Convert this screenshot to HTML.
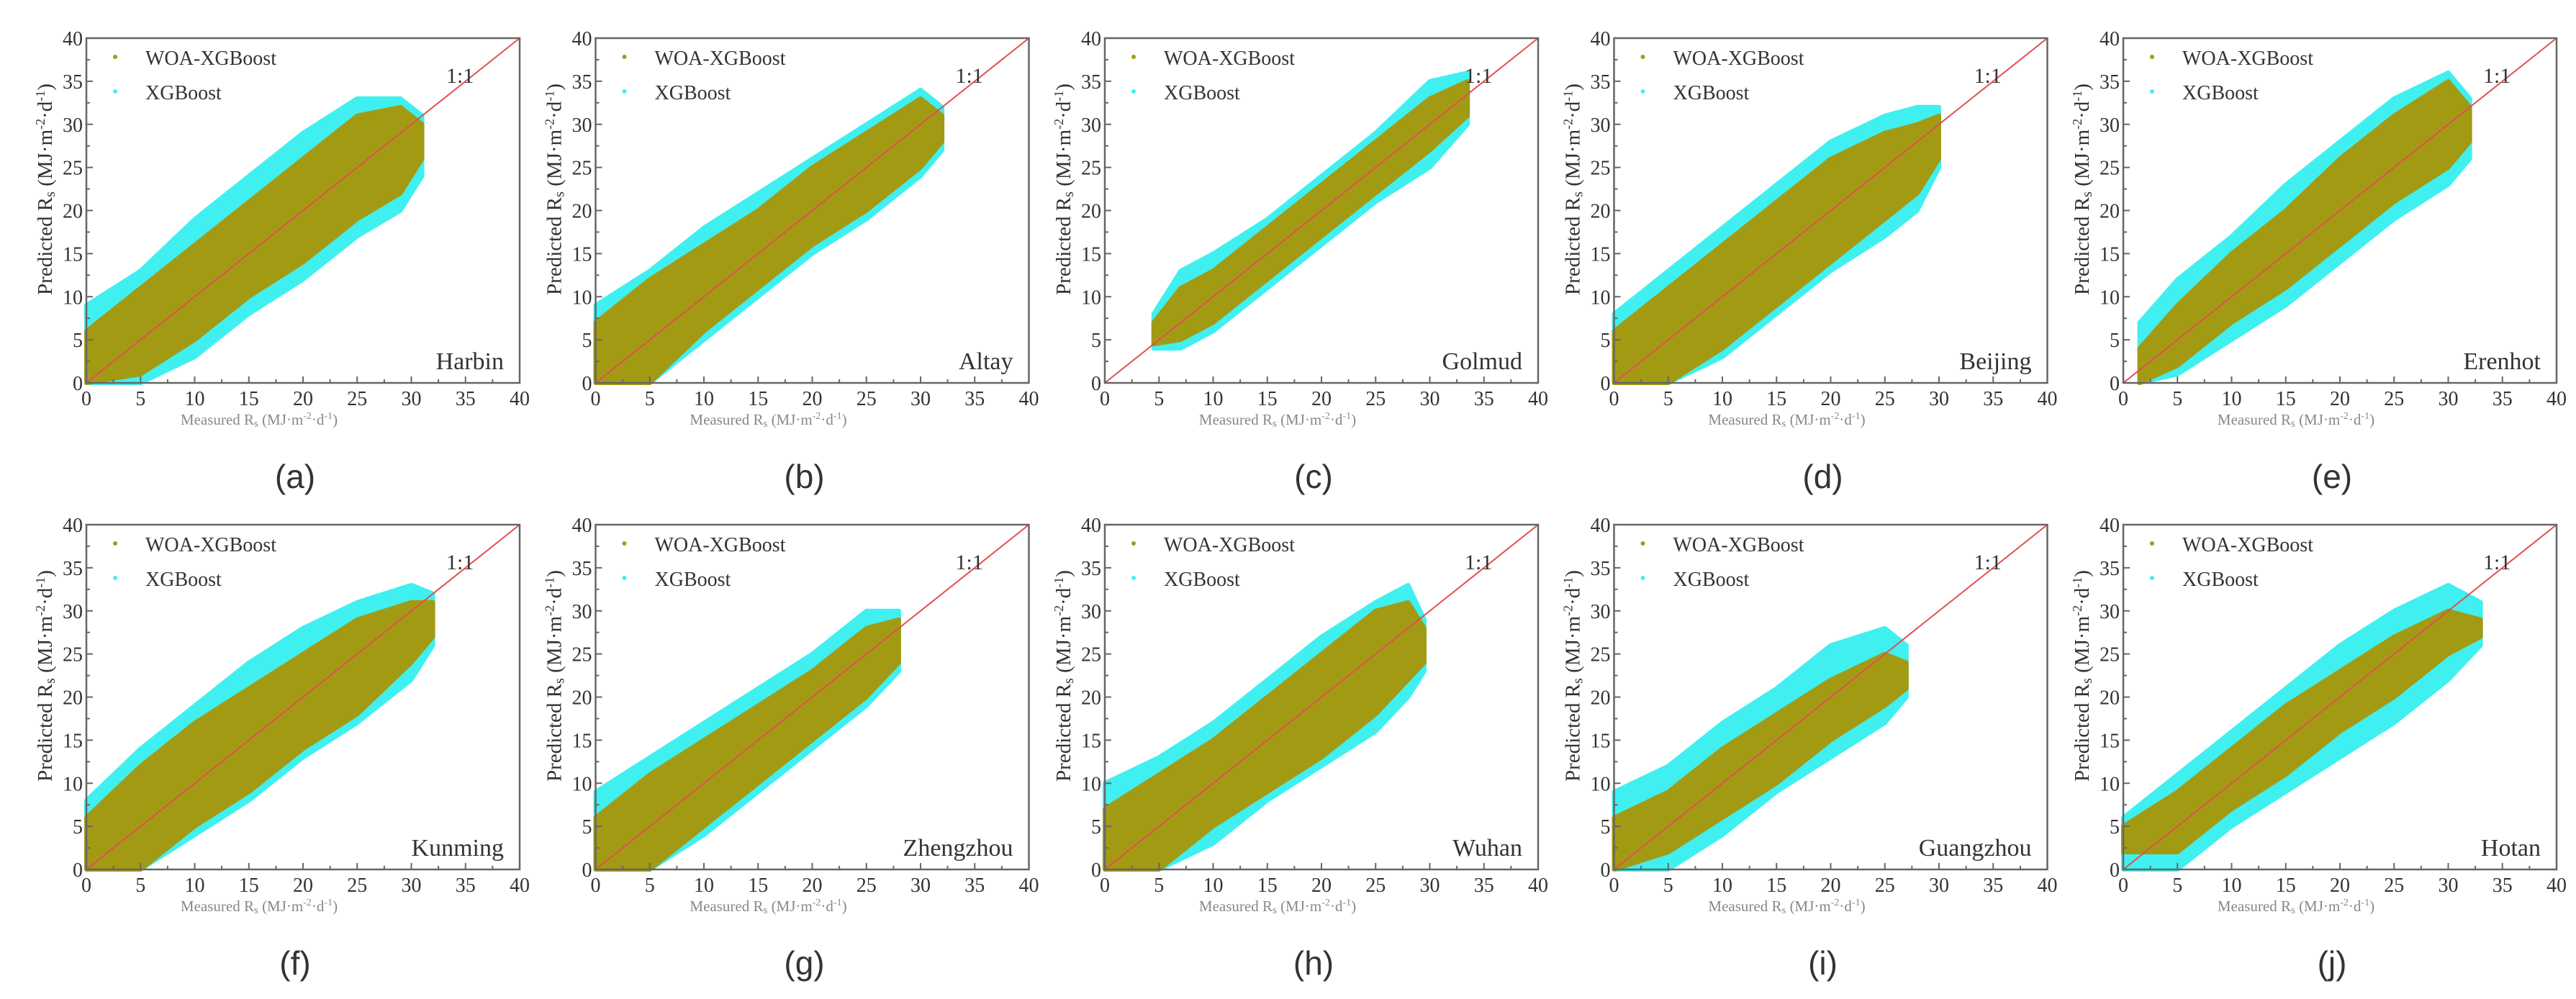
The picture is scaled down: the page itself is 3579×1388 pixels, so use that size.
<!DOCTYPE html>
<html><head><meta charset="utf-8"><style>
html,body{margin:0;padding:0;background:#fff;}
svg{display:block;}
text{font-family:"Liberation Serif",serif;fill:#333;}
</style></head><body>
<svg id="fig" width="3579" height="1388" viewBox="0 0 3579 1388" xmlns="http://www.w3.org/2000/svg"></svg>
<script>
const cities = ["Harbin","Altay","Golmud","Beijing","Erenhot","Kunming","Zhengzhou","Wuhan","Guangzhou","Hotan"];
const panelLabels = ["(a)","(b)","(c)","(d)","(e)","(f)","(g)","(h)","(i)","(j)"];
const tickValues = [0,5,10,15,20,25,30,35,40];
const bandX = [
 [0,5,10,15,20,25,29,31],
 [0,5,10,15,20,25,30,32],
 [4.5,7,10,15,20,25,30,33.5],
 [0,5,10,15,20,25,28,30],
 [1.5,5,10,15,20,25,30,32],
 [0,5,10,15,20,25,30,32],
 [0,5,10,15,20,25,28],
 [0,5,10,15,20,25,28,29.5],
 [0,5,10,15,20,25,27],
 [0,5,10,15,20,25,30,33]
];
const woaHi = [
 [6,11,16,21,26,31,32,30],
 [7,12,16,20,25,29,33,31],
 [7,11,13,18,23,28,33,35],
 [6,11,16,21,26,29,30,31],
 [4,9,15,20,26,31,35,32],
 [6,12,17,21,25,29,31,31],
 [6,11,15,19,23,28,29],
 [7,11,15,20,25,30,31,28],
 [6,9,14,18,22,25,24],
 [5,9,14,19,23,27,30,29]
];
const woaLo = [
 [0,1,5,10,14,19,22,26],
 [0,0,6,11,16,20,25,28],
 [4.5,5,7,12,17,22,27,31],
 [0,0,4,9,14,19,22,26],
 [0,2,7,11,16,21,25,28],
 [0,0,5,9,14,18,24,27],
 [0,0,5,10,15,20,24],
 [0,0,5,9,13,18,22,24],
 [0,2,6,10,15,19,21],
 [2,2,7,11,16,20,25,27]
];
const xgbHi = [
 [9,13,19,24,29,33,33,31],
 [9,13,18,22,26,30,34,32],
 [8,13,15,19,24,29,35,36],
 [8,13,18,23,28,31,32,32],
 [7,12,17,23,28,33,36,33],
 [8,14,19,24,28,31,33,32],
 [9,13,17,21,25,30,30],
 [10,13,17,22,27,31,33,29],
 [9,12,17,21,26,28,26],
 [6,11,16,21,26,30,33,31]
];
const xgbLo = [
 [0,0,3,8,12,17,20,24],
 [0,0,5,10,15,19,24,27],
 [4,4,6,11,16,21,25,30],
 [0,0,3,8,13,17,20,25],
 [0,1,5,9,14,19,23,26],
 [0,0,4,8,13,17,22,26],
 [0,0,4,9,14,19,23],
 [0,0,3,8,12,16,20,23],
 [0,0,4,9,13,17,20],
 [0,0,5,9,13,17,22,26]
];

const NS="http://www.w3.org/2000/svg";
const fig=document.getElementById('fig');
function mk(tag,attrs,parent){const e=document.createElementNS(NS,tag);for(const k in attrs)e.setAttribute(k,attrs[k]);(parent||fig).appendChild(e);return e;}
const PW=602,PH=479,DX=707.5,DY=676,X0=120,Y0=53;

cities.forEach((city,i)=>{
  const col=i%5,row=Math.floor(i/5);
  const ox=X0+col*DX,oy=Y0+row*DY;
  const sx=v=>ox+v/40*PW, sy=v=>oy+PH-v/40*PH;
  const g=mk('g',{});
  
  
  const xs=bandX[i];
  function band(hi,lo,color,name){
    let pts=xs.map((x,k)=>sx(x)+','+sy(hi[k]));
    for(let k=xs.length-1;k>=0;k--)pts.push(sx(xs[k])+','+sy(lo[k]));
    const p=mk('polygon',{points:pts.join(' '),fill:color,stroke:color,'stroke-width':6,'stroke-linejoin':'round'},g);
    
    
  }
  band(xgbHi[i],xgbLo[i],'#40f0f0','xgboost-cloud');
  band(woaHi[i],woaLo[i],'#a39a14','woa-xgboost-cloud');
  // 1:1 line
  const l=mk('line',{x1:sx(0),y1:sy(0),x2:sx(40),y2:sy(40),stroke:'#e05050','stroke-width':2},g);
  
  
  // frame
  const fr=mk('rect',{x:ox,y:oy,width:PW,height:PH,fill:'none',stroke:'#666','stroke-width':2.5},g);
  
  
  // ticks
  for(let v=0;v<=40;v+=2.5){
    const len=(v%5===0)?9:5;
    mk('line',{x1:sx(v),y1:oy+PH,x2:sx(v),y2:oy+PH-len,stroke:'#666','stroke-width':2},g);
    mk('line',{x1:ox,y1:sy(v),x2:ox+len,y2:sy(v),stroke:'#666','stroke-width':2},g);
  }
  tickValues.forEach(v=>{
    const tx=mk('text',{x:sx(v),y:oy+PH+31,'font-size':28,'text-anchor':'middle'},g);
    tx.textContent=v;
    
    
    const ty=mk('text',{x:ox-5,y:sy(v)+10,'font-size':28,'text-anchor':'end'},g);
    ty.textContent=v;
    
    
  });
  // y title
  const yt=mk('text',{x:0,y:0,'font-size':29,'text-anchor':'middle',transform:`translate(${ox-48},${oy+210}) rotate(-90)`},g);
  yt.innerHTML='Predicted R<tspan font-size="20" dy="4">s</tspan><tspan dy="-4"> (MJ·m</tspan><tspan font-size="18" dy="-10">-2</tspan><tspan dy="10">·d</tspan><tspan font-size="18" dy="-10">-1</tspan><tspan dy="10">)</tspan>';
  
  
  // x title
  const xt=mk('text',{x:ox+240,y:oy+PH+58,'font-size':21,'text-anchor':'middle',fill:'#777'},g);
  xt.innerHTML='Measured R<tspan font-size="15" dy="3">s</tspan><tspan dy="-3"> (MJ·m</tspan><tspan font-size="14" dy="-8">-2</tspan><tspan dy="8">·d</tspan><tspan font-size="14" dy="-8">-1</tspan><tspan dy="8">)</tspan>';
  xt.style.fill='#888';
  
  
  // legend
  const lg=mk('g',{},g);
  
  
  mk('circle',{cx:ox+40,cy:oy+26,r:3,fill:'#a39a14'},lg);
  mk('circle',{cx:ox+40,cy:oy+74,r:3,fill:'#40f0f0'},lg);
  const t1=mk('text',{x:ox+82,y:oy+37,'font-size':28},lg);t1.textContent='WOA-XGBoost';
  
  
  const t2=mk('text',{x:ox+82,y:oy+85,'font-size':28},lg);t2.textContent='XGBoost';
  
  
  const r=mk('text',{x:ox+500,y:oy+62,'font-size':30},g);r.textContent='1:1';
  
  
  const c=mk('text',{x:ox+PW-22,y:oy+PH-19,'font-size':34,'text-anchor':'end'},g);c.textContent=city;
  
  
  const pl=mk('text',{x:ox+290,y:oy+625,'font-size':46,'text-anchor':'middle',style:'font-family:"Liberation Sans",sans-serif;font-weight:300'},g);pl.textContent=panelLabels[i];
  
  
});
</script>
</body></html>
